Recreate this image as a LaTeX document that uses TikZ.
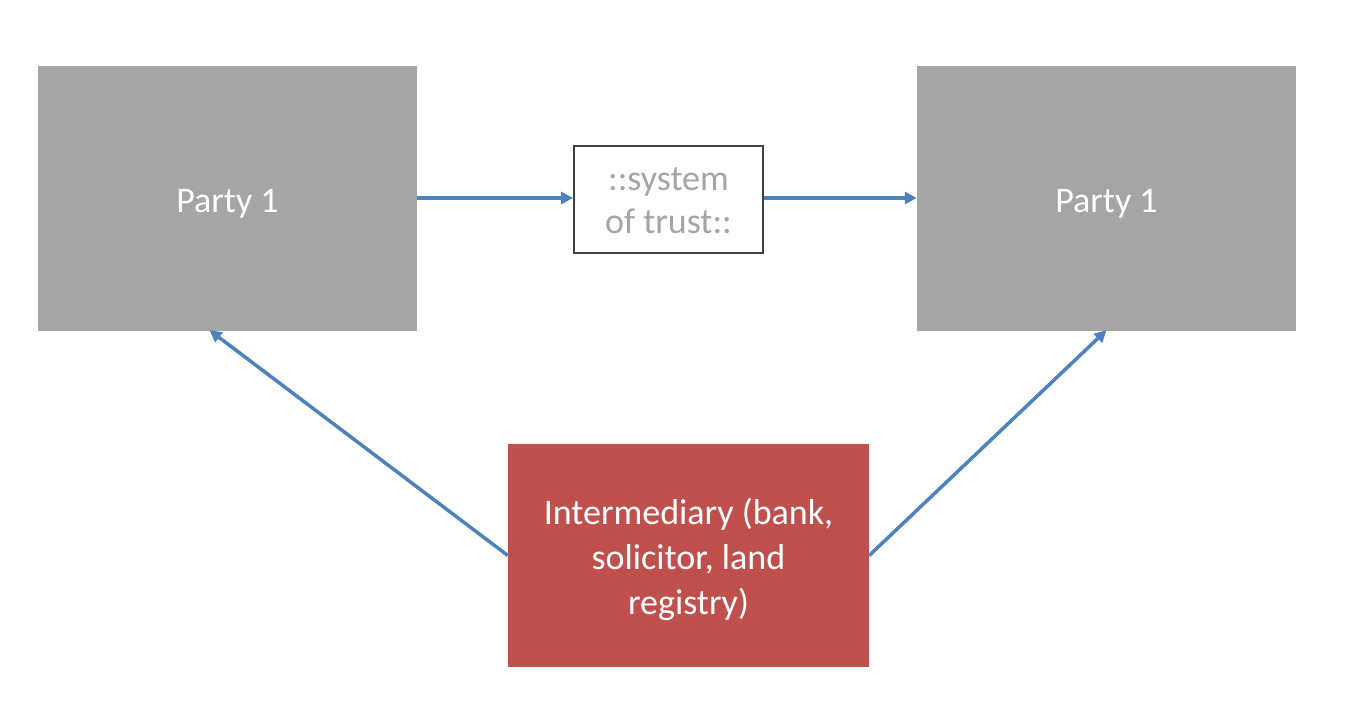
\documentclass[tikz,border=0pt]{standalone}
\usepackage{fontspec}
\setmainfont{Carlito}
\usetikzlibrary{arrows.meta,calc}
\definecolor{boxgray}{HTML}{A5A5A5}
\definecolor{boxred}{HTML}{C0504D}
\definecolor{arrowblue}{HTML}{4F81BD}
\definecolor{edgegray}{HTML}{404040}
\newcommand{\lowerby}[2]{\raisebox{-#1}[\height][\depth]{#2}}
\tikzset{
  party/.style={fill=boxgray, draw=none, minimum width=379pt, minimum height=265pt, inner sep=0pt, text=white, font=\fontsize{36}{43}\selectfont},
  trustbox/.style={fill=white, draw=edgegray, line width=2pt, minimum width=189pt, minimum height=107pt, inner sep=0pt, text=boxgray, align=center, font=\fontsize{36}{43}\selectfont},
  interbox/.style={fill=boxred, draw=none, minimum width=361pt, minimum height=223pt, inner sep=0pt, text=white, align=center, font=\fontsize{36}{45}\selectfont},
  conn/.style={draw=arrowblue, line width=3.5pt, -{Triangle[length=12pt,width=12pt]}}
}
\begin{document}
\begin{tikzpicture}[x=1pt,y=-1pt]
\useasboundingbox (0,0) rectangle (1350,728);
\node[party] (p1) at (227.5,198.5) {\lowerby{5pt}{Party 1}};
\node[party] (p2) at (1106.5,198.5) {\lowerby{5pt}{Party 1}};
\node[trustbox] (trust) at (668.5,199.5) {\lowerby{1.5pt}{::system}\\\lowerby{1.5pt}{of trust::}};
\node[interbox] (inter) at (688.5,555.5) {\lowerby{4pt}{Intermediary (bank,}\\\lowerby{4pt}{solicitor, land}\\\lowerby{4pt}{registry)}};
\coordinate (p1b) at ($(p1.south)+(-18,-1)$);
\coordinate (p2b) at ($(p2.south)+(0,-1)$);
\draw[conn] (p1.east |- 0,198) -- (trust.west |- 0,198);
\draw[conn] (trust.east |- 0,198) -- (p2.west |- 0,198);
\draw[conn] (inter.west) -- (p1b);
\draw[conn] (inter.east) -- (p2b);
\end{tikzpicture}
\end{document}
